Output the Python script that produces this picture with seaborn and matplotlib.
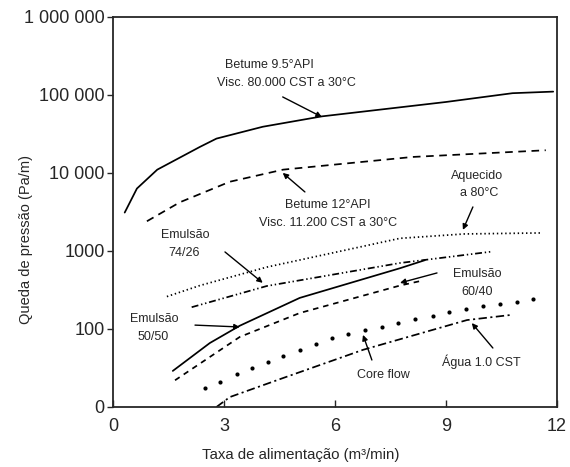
import matplotlib
matplotlib.use("Agg")
import matplotlib.pyplot as plt
import seaborn as sns
import pandas as pd

# ---- data ----
betume95_x = [0.32, 0.65, 1.2, 2.35, 2.8, 4.05, 5.65, 9.0, 10.8, 11.9]
betume95_y = [3100, 6300, 11000, 21500, 27500, 39000, 53000, 81000, 105000, 110000]

betume12_x = [0.92, 1.81, 3.16, 4.6, 8.1, 11.7]
betume12_y = [2400, 4200, 7700, 11000, 16000, 19500]

aquecido_x = [1.46, 2.35, 4.16, 7.76, 9.5, 11.6]
aquecido_y = [260, 360, 620, 1450, 1650, 1700]

em7426_x = [2.13, 4.16, 7.76, 10.24]
em7426_y = [190, 355, 700, 980]

em5050_x = [1.62, 2.62, 3.43, 5.05, 7.76, 8.43]
em5050_y = [29, 66, 110, 250, 600, 760]

em6040_x = [1.68, 3.43, 5.05, 7.76, 8.4]
em6040_y = [22, 79, 160, 360, 420]

core_x = [2.49, 2.89, 3.35, 3.76, 4.19, 4.59, 5.05, 5.49, 5.92, 6.35, 6.81,
          7.27, 7.70, 8.16, 8.65, 9.08, 9.54, 10.0, 10.46, 10.92, 11.35]
core_y = [17.5, 21, 26.5, 31.6, 38, 45, 54, 64, 77, 86, 97,
          106, 120, 135, 147, 165, 180, 197, 209, 222, 242]

agua_x = [2.8, 3.16, 4.6, 6.76, 9.57, 10.8]
agua_y = [10, 13.4, 23.5, 54, 130, 152]

x_ticks = [0, 3, 6, 9, 12]
y_ticks = [10, 100, 1000, 10000, 100000, 1000000]
y_tick_labels = ["0", "100", "1000", "10 000", "100 000", "1 000 000"]

x_label = "Taxa de alimentação (m³/min)"
y_label = "Queda de pressão (Pa/m)"

# ---- style ----
sns.set_style("ticks")
plt.rcParams["font.family"] = ["Liberation Sans", "DejaVu Sans"]
plt.rcParams["lines.scale_dashes"] = False

fig = plt.figure(figsize=(5.70, 4.67), dpi=100)
ax = fig.add_axes([0.198, 0.1285, 0.779, 0.8355])

lw = 1.25
series = [
    (betume95_x, betume95_y, "-"),
    (betume12_x, betume12_y, (0, (5.5, 4))),
    (aquecido_x, aquecido_y, (0, (1, 2))),
    (em7426_x, em7426_y, (0, (5, 2, 1, 2, 1, 2))),
    (em5050_x, em5050_y, "-"),
    (em6040_x, em6040_y, (0, (4, 3.5))),
    (agua_x, agua_y, (0, (6, 2.5, 1.5, 2.5))),
]
for xs, ys, ls in series:
    df = pd.DataFrame({"x": xs, "y": ys})
    sns.lineplot(data=df, x="x", y="y", ax=ax, color="black", lw=lw,
                 linestyle=ls, estimator=None, sort=False)

core_df = pd.DataFrame({"x": core_x, "y": core_y})
sns.scatterplot(data=core_df, x="x", y="y", ax=ax, color="black", s=9,
                linewidth=0)

ax.set_yscale("log")
ax.set_xlim(0, 12)
ax.set_ylim(10, 1000000)
ax.set_xticks(x_ticks)
ax.set_xticklabels([str(t) for t in x_ticks])
ax.set_yticks(y_ticks)
ax.set_yticklabels(y_tick_labels)
ax.minorticks_off()
ax.tick_params(axis="x", direction="in", length=5, width=1, labelsize=13, pad=8)
ax.tick_params(axis="y", direction="out", length=4, width=1, labelsize=13, pad=2)
for sp in ax.spines.values():
    sp.set_linewidth(1.3)
    sp.set_visible(True)

ax.set_xlabel(x_label, fontsize=10.8)
ax.set_ylabel(y_label, fontsize=10.5)
ax.xaxis.set_label_coords(0.423, -0.123)
ax.yaxis.set_label_coords(-0.196, 0.428)
ax.xaxis.label.set_va("center")
ax.yaxis.label.set_va("center")

fs = 9
arw = dict(arrowstyle="-|>", color="black", lw=1.0, mutation_scale=8,
           shrinkA=0, shrinkB=0)

def note(lines, arrow_from, arrow_to):
    for (tx, ty, s) in lines:
        ax.text(tx, ty, s, ha="center", va="center", fontsize=fs)
    ax.annotate("", xy=arrow_to, xytext=arrow_from, arrowprops=arw)

note([(4.22, 243000, "Betume 9.5°API"), (4.70, 143000, "Visc. 80.000 CST a 30°C")],
     (4.59, 94000), (5.65, 52000))
note([(5.81, 3890, "Betume 12°API"), (5.81, 2290, "Visc. 11.200 CST a 30°C")],
     (5.19, 5700), (4.59, 10000))
note([(9.84, 9120, "Aquecido"), (9.89, 5550, "a 80°C")],
     (9.73, 3660), (9.46, 1860))
note([(1.95, 1600, "Emulsão"), (1.92, 940, "74/26")],
     (3.03, 970), (4.05, 390))
note([(1.11, 134, "Emulsão"), (1.08, 79, "50/50")],
     (2.22, 112), (3.43, 106))
note([(9.84, 507, "Emulsão"), (9.84, 298, "60/40")],
     (8.76, 522), (7.76, 389))
note([(7.30, 25.7, "Core flow")], (7.0, 40), (6.76, 84))
note([(9.97, 37.8, "Água 1.0 CST")], (10.27, 57), (9.70, 119))

fig.savefig("out.png", dpi=100)
